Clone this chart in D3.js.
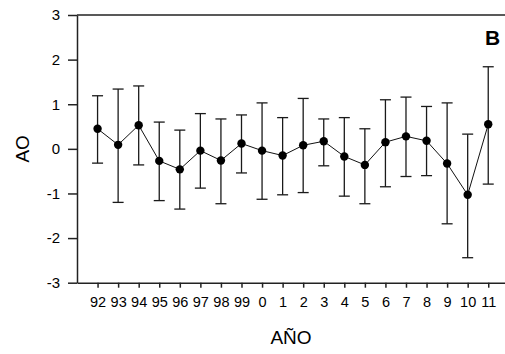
<!DOCTYPE html>
<html>
<head>
<meta charset="utf-8">
<script src="https://cdn.jsdelivr.net/npm/d3@7"></script>
<style>
  body { margin: 0; background: #fff; }
  svg text { font-family: "Liberation Sans", Arial, sans-serif; fill: #000; }
</style>
</head>
<body>
<svg id="chart" width="505" height="354"></svg>
<script>
// AO by year, mean with error bar ends
const years = ["92","93","94","95","96","97","98","99","0","1","2","3","4","5","6","7","8","9","10","11"];
const aoMean = [0.45, 0.09, 0.53, -0.27, -0.46, -0.04, -0.26, 0.12, -0.04, -0.15, 0.08, 0.17, -0.17, -0.36, 0.15, 0.28, 0.18, -0.33, -1.03, 0.55];
const aoHigh = [1.19, 1.34, 1.41, 0.60, 0.42, 0.79, 0.67, 0.76, 1.03, 0.70, 1.13, 0.67, 0.70, 0.45, 1.10, 1.16, 0.95, 1.03, 0.33, 1.84];
const aoLow = [-0.32, -1.20, -0.36, -1.16, -1.35, -0.88, -1.23, -0.54, -1.13, -1.03, -0.98, -0.38, -1.06, -1.23, -0.85, -0.62, -0.60, -1.68, -2.44, -0.79];
const yTicks = [-3, -2, -1, 0, 1, 2, 3];

const svg = d3.select("#chart");
const W = 505;
const margin = {top: 15, left: 77};
const plotBottom = 282.7;

const data = years.map((yr, i) => ({yr, m: aoMean[i], hi: aoHigh[i], lo: aoLow[i]}));

const x = d3.scalePoint().domain(years).range([margin.left, 508.8]).padding(1);
const y = d3.scaleLinear().domain([-3, 3]).range([plotBottom, margin.top]);

const axisColor = "#222";

// y axis
const gy = svg.append("g").attr("transform", `translate(${margin.left},0)`)
    .call(d3.axisLeft(y).tickValues(yTicks).tickFormat(d => d3.format("d")(d).replace("−", "-"))
        .tickSize(9).tickSizeOuter(0).tickPadding(8));
gy.selectAll("text").style("font-size", "15px");

// x axis
const gx = svg.append("g").attr("transform", `translate(0,${plotBottom})`)
    .call(d3.axisBottom(x).tickSize(5).tickSizeOuter(0).tickPadding(9));
gx.selectAll("text").style("font-size", "14.5px");

svg.selectAll(".domain, .tick line").attr("stroke", axisColor).attr("stroke-width", 1.5);

// top frame line
svg.append("line")
    .attr("x1", margin.left).attr("x2", W)
    .attr("y1", y(3)).attr("y2", y(3))
    .attr("stroke", axisColor).attr("stroke-width", 1.5);

// error bars
const eb = svg.append("g").attr("stroke", "#1a1a1a").attr("stroke-width", 1.3);
const cap = 5.5;
eb.selectAll("line.v").data(data).join("line").attr("class", "v")
    .attr("x1", d => x(d.yr)).attr("x2", d => x(d.yr))
    .attr("y1", d => y(d.hi)).attr("y2", d => y(d.lo));
eb.selectAll("line.h").data(data).join("line").attr("class", "h")
    .attr("x1", d => x(d.yr) - cap).attr("x2", d => x(d.yr) + cap)
    .attr("y1", d => y(d.hi)).attr("y2", d => y(d.hi));
eb.selectAll("line.l").data(data).join("line").attr("class", "l")
    .attr("x1", d => x(d.yr) - cap).attr("x2", d => x(d.yr) + cap)
    .attr("y1", d => y(d.lo)).attr("y2", d => y(d.lo));

// connecting line
svg.append("path").datum(data)
    .attr("fill", "none").attr("stroke", "#111").attr("stroke-width", 1)
    .attr("d", d3.line().x(d => x(d.yr)).y(d => y(d.m)));

// markers
svg.append("g").selectAll("circle").data(data).join("circle")
    .attr("cx", d => x(d.yr)).attr("cy", d => y(d.m)).attr("r", 4.2)
    .attr("fill", "#000");

// axis titles
svg.append("text")
    .attr("transform", `translate(29,${y(0)}) rotate(-90)`)
    .attr("text-anchor", "middle")
    .style("font-size", "19px")
    .text("AO");

svg.append("text")
    .attr("x", (margin.left + W) / 2).attr("y", 343.5)
    .attr("text-anchor", "middle")
    .style("font-size", "19px")
    .text("AÑO");

svg.append("text")
    .attr("x", 485).attr("y", 45)
    .style("font-size", "21px").style("font-weight", "bold")
    .text("B");
</script>
</body>
</html>
